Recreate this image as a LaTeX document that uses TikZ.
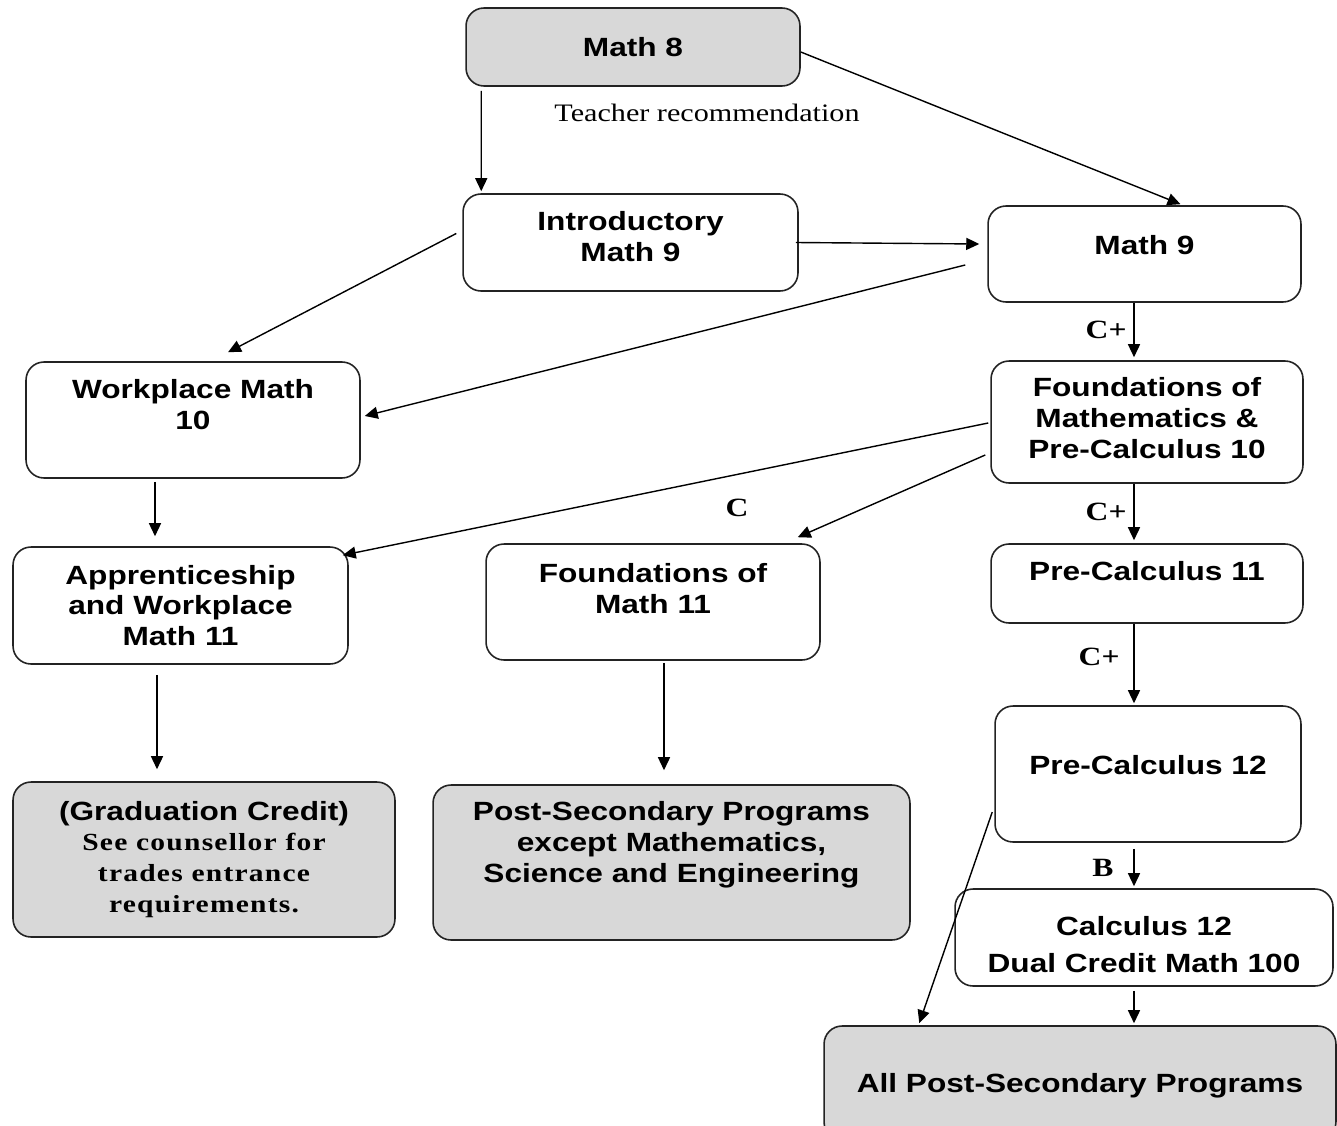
\documentclass[tikz,border=0pt]{standalone}
\usepackage{fontspec}
\setmainfont{Liberation Serif}[FakeStretch=1.2]
\setsansfont{Liberation Sans}[FakeStretch=1.2]
\newfontfamily\spacedserif{Liberation Serif}[FakeStretch=1.2,LetterSpace=5]
\usepackage{xcolor}
\usetikzlibrary{arrows.meta,calc}

\definecolor{boxgray}{RGB}{216,216,216}
\definecolor{edgegray}{RGB}{35,35,35}

\tikzset{
  course/.style={draw=edgegray, line width=0.9pt, rounded corners=0.36cm,
    inner sep=2pt, align=center, font=\sffamily\bfseries\fontsize{15}{17.6}\selectfont},
  goal/.style={course, fill=boxgray},
  pad/.style={execute at end node={\par\vspace*{#1}}},
  grade/.style={font=\bfseries\fontsize{15}{17}\selectfont, inner sep=1pt},
  arr/.style={-{Triangle[length=0.26cm,width=0.24cm]}, line width=0.8pt}
}

\begin{document}
\begin{tikzpicture}[x=0.02cm, y=-0.02cm]
  \useasboundingbox (0,0) rectangle (1337,1125);

  %% grade 8 and 9
  \node[goal, minimum width=6.68cm, minimum height=1.56cm, text width=6.3cm] (math8) at (633,47) {Math 8};
  \node[font=\fontsize{14.3}{16}\selectfont] (teacher) at (707,113) {Teacher recommendation};
  \node[course, minimum width=6.70cm, minimum height=1.94cm, text width=6.3cm, pad=0.24cm] (intro) at (630.5,242.5) {Introductory\\Math 9};
  \node[course, minimum width=6.26cm, minimum height=1.92cm, text width=5.9cm, pad=0.36cm] (math9) at (1144.5,254) {Math 9};

  %% grade 10
  \node[course, minimum width=6.68cm, minimum height=2.32cm, text width=6.3cm, pad=0.6cm] (work10) at (193,420) {Workplace Math\\10};
  \node[course, minimum width=6.24cm, minimum height=2.44cm, text width=5.9cm, pad=0.16cm] (found10) at (1147,422) {Foundations of\\Mathematics \&\\Pre-Calculus 10};

  %% grade 11
  \node[course, minimum width=6.70cm, minimum height=2.34cm, text width=6.3cm] (appr11) at (180.5,605.5) {Apprenticeship\\and Workplace\\Math 11};
  \node[course, minimum width=6.68cm, minimum height=2.32cm, text width=6.3cm, pad=0.54cm] (found11) at (653,602) {Foundations of\\Math 11};
  \node[course, minimum width=6.24cm, minimum height=1.58cm, text width=5.9cm, pad=0.5cm] (pre11) at (1147,583.5) {Pre-Calculus 11};

  %% grade 12
  \node[course, minimum width=6.12cm, minimum height=2.72cm, text width=5.8cm, pad=0.36cm] (pre12) at (1148,774) {Pre-Calculus 12};
  \node[course, minimum width=7.56cm, minimum height=1.94cm, text width=7.2cm, pad=-0.28cm] (calc12) at (1144,937.5) {Calculus 12\\[0.12cm]Dual Credit Math 100};

  %% where it leads
  \node[goal, minimum width=7.64cm, minimum height=3.10cm, text width=7.3cm] (grad) at (204,859.5)
    {(Graduation Credit)\\{\spacedserif\fontsize{14}{17.6}\selectfont See counsellor for\\trades entrance\\requirements.}};
  \node[goal, minimum width=9.54cm, minimum height=3.10cm, text width=9.2cm, pad=0.7cm] (postsec) at (671.5,862.5)
    {Post-Secondary Programs\\except Mathematics,\\Science and Engineering};
  \node[goal, minimum width=10.24cm, minimum height=2.28cm, text width=9.9cm, pad=-0.12cm] (allpost) at (1080,1083) {All Post-Secondary Programs};

  \node[grade] (gradec) at (737,508) {C};

  %% arrows
  \draw[arr] ($(math8.south west)+(16,4)$) -- ($(intro.north west)+(19,-2)$);
  \draw[arr] ($(math8.east)+(0,5)$) -- ($(math9.north)+(36,-1)$);
  \draw[arr] ($(intro.east)+(-3,0)$) -- ($(math9.west)+(-8,-10)$);
  \draw[arr] ($(intro.west)+(-6,-9)$) -- ($(work10.north)+(35,-9)$);
  \draw[arr] ($(math9.west)+(-22,11)$) -- ($(work10.east)+(4,-4)$);
  \draw[arr] ($(math9.south)+(-10.5,0)$) -- node[grade, left=0.1cm] {C+} ($(found10.north)+(-13,-3)$);

  \draw[arr] ($(found10.west)+(-2,1)$) -- ($(appr11.north east)+(-6,9)$);
  \draw[arr] ($(found10.west)+(-5,33)$) -- ($(found11.north east)+(-23,-6)$);
  \draw[arr] ($(found10.south)+(-13,0)$) -- node[grade, left=0.1cm] {C+} ($(pre11.north)+(-13,-3)$);
  \draw[arr] ($(work10.south)+(-38,3)$) -- ($(appr11.north)+(-25.5,-10)$);

  \draw[arr] ($(pre11.south)+(-13,0)$) -- node[grade, left=0.24cm, pos=0.42] {C+} ($(pre12.north)+(-14,-2)$);
  \draw[arr] ($(pre12.south)+(-14,6)$) -- node[grade, left=0.36cm] {B} ($(calc12.north)+(-10,-2)$);
  \draw[arr] ($(pre12.west)+(-2,38)$) -- ($(allpost.north west)+(96,-2)$);
  \draw[arr] ($(calc12.south)+(-10,4)$) -- ($(allpost.north)+(54,-2)$);

  \draw[arr] ($(appr11.south)+(-23.5,10)$) -- ($(grad.north)+(-47,-12)$);
  \draw[arr] ($(found11.south)+(11,2)$) -- ($(postsec.north)+(-7.5,-14)$);
\end{tikzpicture}
\end{document}
